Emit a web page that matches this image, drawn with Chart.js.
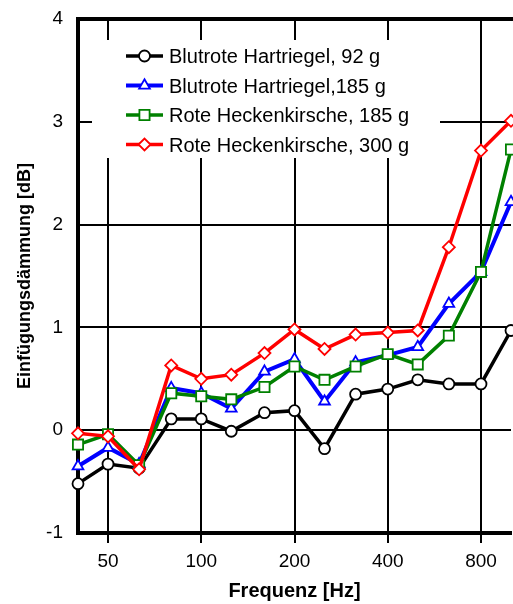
<!DOCTYPE html>
<html>
<head>
<meta charset="utf-8">
<script src="https://cdn.jsdelivr.net/npm/chart.js@4"></script>
<style>
html,body{margin:0;padding:0;background:#fff;overflow:hidden;}
#wrap{width:520px;height:604px;}
</style>
</head>
<body>
<div id="wrap"><canvas id="c" width="520" height="604"></canvas></div>
<script>
const frequencies = [40, 50, 63, 80, 100, 125, 160, 200, 250, 315, 400, 500, 630, 800, 1000];
const xTickValues = [50, 100, 200, 400, 800];
const yTickValues = [-1, 0, 1, 2, 3, 4];
const seriesLabels = [
  'Blutrote Hartriegel, 92 g',
  'Blutrote Hartriegel,185 g',
  'Rote Heckenkirsche, 185 g',
  'Rote Heckenkirsche, 300 g'
];
const hartriegel92 = [-0.52, -0.33, -0.37, 0.11, 0.11, -0.01, 0.17, 0.19, -0.18, 0.35, 0.40, 0.49, 0.45, 0.45, 0.97];
const hartriegel185 = [-0.35, -0.17, -0.33, 0.41, 0.36, 0.21, 0.57, 0.69, 0.28, 0.66, 0.73, 0.81, 1.23, 1.54, 2.22];
const heckenkirsche185 = [-0.14, -0.04, -0.34, 0.36, 0.33, 0.30, 0.42, 0.62, 0.49, 0.62, 0.74, 0.64, 0.92, 1.54, 2.73];
const heckenkirsche300 = [-0.03, -0.06, -0.38, 0.63, 0.50, 0.54, 0.75, 0.98, 0.79, 0.93, 0.95, 0.97, 1.78, 2.72, 3.01];

const colors = ['#000000', '#0000ff', '#008000', '#ff0000'];
const markers = ['circle', 'triangle', 'rect', 'rectRot'];
const radii = [5.5, 6.2, 7.2, 6];
const widths = [3.5, 4, 3.5, 3.5];
const allValues = [hartriegel92, hartriegel185, heckenkirsche185, heckenkirsche300];

const datasets = allValues.map((vals, i) => ({
  label: seriesLabels[i],
  data: vals.map((v, k) => ({x: frequencies[k], y: v})),
  borderColor: colors[i],
  backgroundColor: '#ffffff',
  borderWidth: widths[i],
  pointStyle: markers[i],
  pointRadius: radii[i],
  pointBorderWidth: 1.8,
  pointBackgroundColor: '#ffffff',
  pointBorderColor: colors[i],
  tension: 0,
  order: 3 - i,
  clip: false
}));

const frameAndLegend = {
  id: 'frameAndLegend',
  afterDatasetsDraw(chart) {
    const ctx = chart.ctx, ca = chart.chartArea;
    ctx.save();
    // top border
    ctx.strokeStyle = '#000';
    ctx.lineWidth = 4;
    ctx.beginPath();
    ctx.moveTo(ca.left - 2, ca.top);
    ctx.lineTo(ca.right + 2, ca.top);
    ctx.stroke();
    // legend box
    const bx = ca.left + 14, by = ca.top + 21, bw = 348, bh = 118;
    ctx.fillStyle = '#ffffff';
    ctx.fillRect(bx, by, bw, bh);
    const rowBase = [ca.top + 44.3, ca.top + 73.8, ca.top + 103.3, ca.top + 132.8];
    chart.data.datasets.forEach((ds, i) => {
      const ly = rowBase[i] - 7.3;
      ctx.strokeStyle = ds.borderColor;
      ctx.lineWidth = ds.borderWidth;
      ctx.beginPath();
      ctx.moveTo(ca.left + 48, ly);
      ctx.lineTo(ca.left + 85, ly);
      ctx.stroke();
      ctx.fillStyle = '#ffffff';
      ctx.strokeStyle = ds.borderColor;
      ctx.lineWidth = ds.pointBorderWidth;
      Chart.helpers.drawPoint(ctx, {
        pointStyle: ds.pointStyle,
        radius: ds.pointRadius,
        rotation: 0,
        borderWidth: ds.pointBorderWidth
      }, ca.left + 66.5, ly);
      ctx.fillStyle = '#000';
      ctx.font = '20px "Liberation Sans", Arial, sans-serif';
      ctx.textBaseline = 'alphabetic';
      ctx.textAlign = 'left';
      ctx.fillText(ds.label, ca.left + 91, rowBase[i]);
    });
    ctx.restore();
  }
};

new Chart(document.getElementById('c'), {
  type: 'line',
  data: { datasets },
  options: {
    responsive: false,
    animation: false,
    layout: { padding: { top: 19, right: 5.7, left: 0, bottom: 0 } },
    plugins: { legend: { display: false }, tooltip: { enabled: false } },
    scales: {
      x: {
        type: 'logarithmic',
        min: 40,
        max: 1000,
        afterBuildTicks(scale) { scale.ticks = xTickValues.map(v => ({ value: v })); },
        afterFit(scale) { scale.height = 71; scale.paddingLeft = 0; scale.paddingRight = 0; },
        ticks: {
          autoSkip: false,
          maxRotation: 0,
          padding: 7,
          color: '#000',
          font: { family: '"Liberation Sans", Arial, sans-serif', size: 19 },
          callback: (v) => String(v)
        },
        grid: { color: '#000', lineWidth: 2, tickLength: 10, drawTicks: true },
        border: { color: '#000', width: 4 },
        title: {
          display: true,
          text: 'Frequenz [Hz]',
          color: '#000',
          font: { family: '"Liberation Sans", Arial, sans-serif', size: 20, weight: 'bold' },
          padding: { top: 0, bottom: 1 }
        }
      },
      y: {
        type: 'linear',
        min: -1,
        max: 4,
        afterBuildTicks(scale) { scale.ticks = yTickValues.map(v => ({ value: v })); },
        afterFit(scale) { scale.width = 78; scale.paddingTop = 0; scale.paddingBottom = 0; },
        ticks: {
          padding: 15,
          color: '#000',
          font: { family: '"Liberation Sans", Arial, sans-serif', size: 19 }
        },
        grid: { color: '#000', lineWidth: 2, drawTicks: false },
        border: { color: '#000', width: 4 },
        title: {
          display: true,
          text: 'Einfügungsdämmung [dB]',
          color: '#000',
          font: { family: '"Liberation Sans", Arial, sans-serif', size: 18, weight: 'bold' },
          padding: { top: 14, bottom: 0 }
        }
      }
    }
  },
  plugins: [frameAndLegend]
});
</script>
</body>
</html>
